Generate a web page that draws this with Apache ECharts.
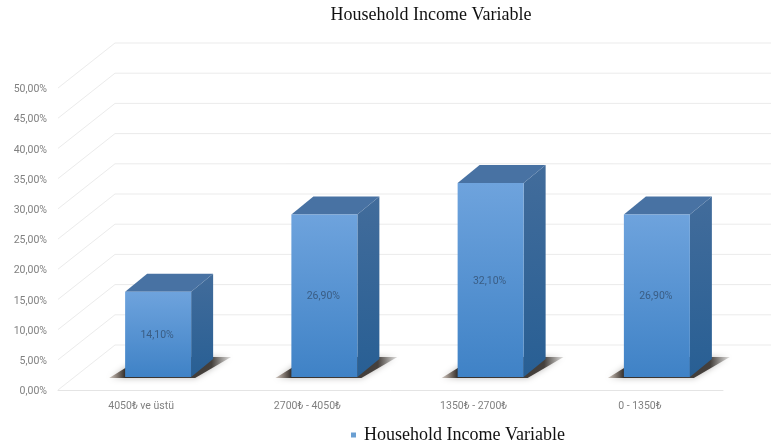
<!DOCTYPE html>
<html>
<head>
<meta charset="utf-8">
<style>html,body{margin:0;padding:0;background:#fff}#chart{width:771px;height:446px}</style>
<script src="https://cdn.jsdelivr.net/npm/echarts@6/dist/echarts.min.js"></script>
</head>
<body>
<div id="chart"></div>
<script>
const chartTitle = 'Household Income Variable';
const categories = ['4050₺ ve üstü', '2700₺ - 4050₺', '1350₺ - 2700₺', '0 - 1350₺'];
const shares = [14.10, 26.90, 32.10, 26.90];
const wallTicks = [0, 5, 10, 15, 20, 25, 30, 35, 40, 45, 50];

const percentText = v => v.toFixed(2).replace('.', ',') + '%';
const vGrad = (a, b) => new echarts.graphic.LinearGradient(0, 0, 0, 1, [
  { offset: 0, color: a }, { offset: 1, color: b }
]);

// Pseudo-3D offsets: wall depth, bar placement on the floor, bar depth
const WALL = [57, -45];
const PLACE = [17, -13];
const DEPTH = [22, -18];
const BAR_W = 66;

function renderWall(params, api) {
  const rect = params.coordSys;
  const y = api.coord([0, api.value(1)])[1];
  const left = rect.x;
  const pts = [[left, y], [left + WALL[0], y + WALL[1]], [771, y + WALL[1]]];
  return {
    type: 'polyline',
    shape: { points: pts },
    style: { stroke: '#ebebeb', lineWidth: 1, fill: null },
    silent: true
  };
}

function renderBar(params, api) {
  const c = api.coord([api.value(0), 0]);
  const t = api.coord([api.value(0), api.value(1)]);
  const x0 = c[0] + PLACE[0] - BAR_W / 2;
  const x1 = x0 + BAR_W;
  const yb = c[1] + PLACE[1];
  const yt = t[1] + PLACE[1];
  const dx = DEPTH[0], dy = DEPTH[1];
  const poly = (points, style) => ({ type: 'polygon', shape: { points }, style });
  return {
    type: 'group',
    children: [
      // floor shadow, fading out toward both tips
      poly([[x0 - 16, yb + 1], [x1 + 4, yb + 1], [x1 + 40, yb - 20], [x0 + 18, yb - 20]], {
        fill: new echarts.graphic.LinearGradient(0, 0, 1, 0, [
          { offset: 0, color: 'rgba(110,85,65,0.3)' },
          { offset: 0.13, color: 'rgba(45,40,37,0.95)' },
          { offset: 0.84, color: 'rgba(55,50,46,0.9)' },
          { offset: 1, color: 'rgba(110,105,100,0.2)' }
        ]),
        shadowBlur: 6, shadowColor: 'rgba(90,85,80,0.45)'
      }),
      // side
      poly([[x1, yb], [x1 + dx, yb + dy], [x1 + dx, yt + dy], [x1, yt]], {
        fill: vGrad('#426c9b', '#285f94')
      }),
      // top
      poly([[x0, yt], [x1, yt], [x1 + dx, yt + dy], [x0 + dx, yt + dy]], {
        fill: '#4872a3'
      }),
      // front
      {
        type: 'rect',
        shape: { x: x0, y: yt, width: BAR_W, height: yb - yt },
        style: { fill: vGrad('#6ea3dd', '#3f82c6') }
      },
      {
        type: 'text',
        style: {
          x: (x0 + x1) / 2 - 1, y: (yt + yb) / 2 + 1,
          text: percentText(api.value(1)),
          fill: '#3a5d84', font: '10.5px Roboto',
          align: 'center', verticalAlign: 'middle'
        }
      }
    ]
  };
}

const chart = echarts.init(document.getElementById('chart'), null, { renderer: 'canvas' });
chart.setOption({
  animation: false,
  backgroundColor: '#ffffff',
  title: {
    text: chartTitle, left: 426, top: 1, textAlign: 'center',
    textStyle: { fontFamily: 'Liberation Serif', fontSize: 18, fontWeight: 'normal', color: '#111' }
  },
  legend: {
    left: 346, top: 421, itemWidth: 5, itemHeight: 5, itemGap: 8, icon: 'rect',
    data: [chartTitle],
    textStyle: { fontFamily: 'Liberation Serif', fontSize: 18, color: '#111', padding: [0, 0, 0, 3] }
  },
  grid: { left: 58, right: 48, top: 88, bottom: 56 },
  xAxis: {
    type: 'category', data: categories,
    axisTick: { show: false },
    axisLine: { lineStyle: { color: '#e4e4e4' } },
    axisLabel: { color: '#808080', fontFamily: 'Roboto', fontSize: 10.5, margin: 11 }
  },
  yAxis: {
    type: 'value', min: 0, max: 50, interval: 5,
    axisLine: { show: false }, axisTick: { show: false }, splitLine: { show: false },
    axisLabel: { color: '#808080', fontFamily: 'Roboto', fontSize: 10.5, margin: 11, verticalAlign: 'top', padding: [-4, 0, 0, 0], formatter: percentText }
  },
  series: [
    {
      type: 'custom', name: 'walls', silent: true, clip: false, z: 1,
      renderItem: renderWall,
      encode: { x: 0, y: 1 },
      data: wallTicks.map(v => [0, v])
    },
    {
      type: 'custom', name: chartTitle, clip: false, z: 2,
      itemStyle: { color: '#6a9fd2' },
      renderItem: renderBar,
      encode: { x: 0, y: 1 },
      data: shares.map((v, i) => [i, v])
    }
  ]
});
</script>
</body>
</html>
